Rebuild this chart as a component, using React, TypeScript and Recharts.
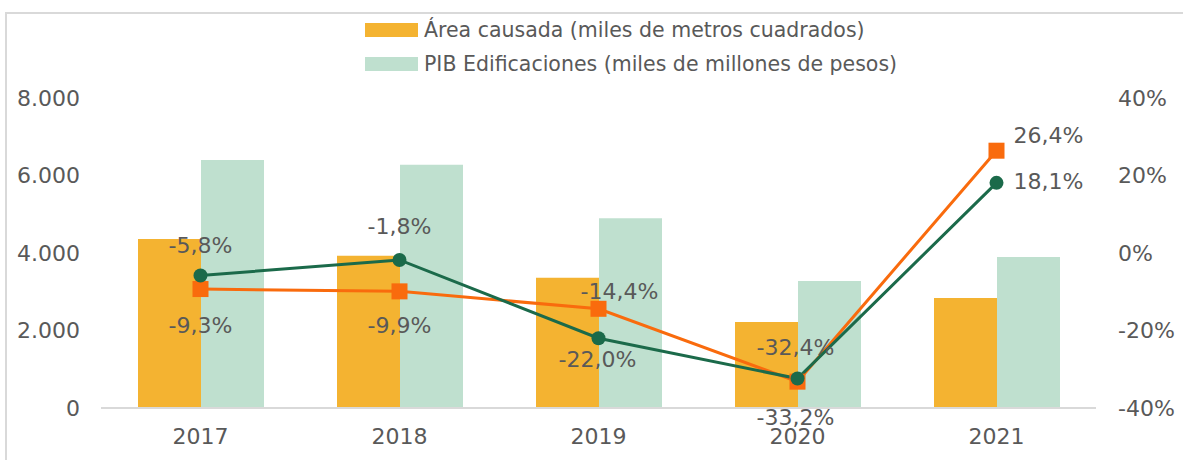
import React from 'react';
import { ComposedChart, Bar, Line, XAxis, YAxis, LabelList, Legend } from 'recharts';

const years = ['2017', '2018', '2019', '2020', '2021'];
const areaCausada = [4360, 3930, 3360, 2220, 2840];
const pibEdificaciones = [6400, 6280, 4900, 3280, 3900];
const varArea = [-9.3, -9.9, -14.4, -33.2, 26.4];
const varPib = [-5.8, -1.8, -22.0, -32.4, 18.1];
const leftTicks = [0, 2000, 4000, 6000, 8000];
const rightTicks = [-40, -20, 0, 20, 40];
const areaName = 'Área causada (miles de metros cuadrados)';
const pibName = 'PIB Edificaciones (miles de millones de pesos)';

const data = years.map((year, i) => ({
  year,
  area: areaCausada[i],
  pib: pibEdificaciones[i],
  varArea: varArea[i],
  varPib: varPib[i],
}));

const FONT = '"DejaVu Sans", sans-serif';
const TEXT = '#595959';
const C_AREA = '#F4B331';
const C_PIB = '#BFE0CF';
const C_LINE_AREA = '#F96B0D';
const C_LINE_PIB = '#1B6A4A';

// label layout offsets [dx, dy, anchor]
const areaLabelLayout: [number, number, string][] = [
  [0, 36, 'middle'], [0, 34, 'middle'], [21, -17, 'middle'], [-2, 36, 'middle'], [17, -15, 'start'],
];
const pibLabelLayout: [number, number, string][] = [
  [0, -30, 'middle'], [0, -33, 'middle'], [-1, 21, 'middle'], [-2, -31, 'middle'], [17, -1, 'start'],
];

const fmtPct = (v: number) => v.toFixed(1).replace('.', ',') + '%';
const fmtThousands = (v: number) => String(v).replace(/\B(?=(\d{3})+(?!\d))/g, '.');

const makeLabel = (layout: [number, number, string][]) => (props: any) => {
  const { x, y, value, index } = props;
  const [dx, dy, anchor] = layout[index];
  return (
    <text
      x={x + dx}
      y={y + dy}
      textAnchor={anchor as any}
      dominantBaseline="central"
      fontSize={22}
      fill={TEXT}
      fontFamily={FONT}
    >
      {fmtPct(value)}
    </text>
  );
};

const SquareDot = (props: any) => {
  const { cx, cy, index } = props;
  return <rect key={`sq-${index}`} x={cx - 8} y={cy - 8} width={16} height={16} fill={C_LINE_AREA} />;
};
const CircleDot = (props: any) => {
  const { cx, cy, index } = props;
  return <circle key={`ci-${index}`} cx={cx} cy={cy} r={7} fill={C_LINE_PIB} />;
};

const LegendContent = () => (
  <div style={{ fontFamily: FONT, fontSize: 20.5, color: TEXT, lineHeight: '34px' }}>
    {[
      { name: areaName, color: C_AREA },
      { name: pibName, color: C_PIB },
    ].map((it) => (
      <div key={it.name} style={{ display: 'flex', alignItems: 'center', height: 34, whiteSpace: 'nowrap' }}>
        <span style={{ display: 'inline-block', width: 53, height: 14, background: it.color, marginRight: 6 }} />
        <span>{it.name}</span>
      </div>
    ))}
  </div>
);

export default function App() {
  return (
    <div
      style={{
        position: 'absolute',
        left: 0,
        top: 0,
        width: 1183,
        height: 460,
        overflow: 'hidden',
        background: '#fff',
        fontFamily: FONT,
      }}
    >
      <div
        style={{
          position: 'absolute',
          left: 5,
          top: 12,
          width: 1200,
          height: 480,
          border: '2px solid #D9D9D9',
          boxSizing: 'border-box',
        }}
      />
      <div style={{ position: 'absolute', left: 0, top: 0 }}>
        <ComposedChart
          width={1183}
          height={460}
          data={data}
          margin={{ top: 98, right: 0, bottom: 0, left: 0 }}
          barCategoryGap={37}
          barGap={0}
        >
          <XAxis
            dataKey="year"
            height={52}
            tickLine={false}
            axisLine={{ stroke: '#D9D9D9', strokeWidth: 2 }}
            tick={{ fill: TEXT, fontSize: 22 }}
            tickMargin={14}
          />
          <YAxis
            yAxisId="left"
            width={101}
            domain={[0, 8000]}
            ticks={leftTicks}
            tickFormatter={fmtThousands}
            axisLine={false}
            tickLine={false}
            tickMargin={15}
            tick={{ fill: TEXT, fontSize: 22 }}
          />
          <YAxis
            yAxisId="right"
            orientation="right"
            width={87}
            domain={[-40, 40]}
            ticks={rightTicks}
            tickFormatter={(v: number) => `${v}%`}
            axisLine={false}
            tickLine={false}
            tickMargin={16}
            tick={{ fill: TEXT, fontSize: 22, textAnchor: 'start' }}
          />
          <Legend
            layout="vertical"
            verticalAlign="middle"
            align="center"
            wrapperStyle={{ top: 13, left: 365, width: 700 }}
            content={<LegendContent />}
          />
          <Bar yAxisId="left" dataKey="area" name={areaName} fill={C_AREA} isAnimationActive={false} />
          <Bar yAxisId="left" dataKey="pib" name={pibName} fill={C_PIB} isAnimationActive={false} />
          <Line
            yAxisId="right"
            dataKey="varArea"
            stroke={C_LINE_AREA}
            strokeWidth={3}
            dot={SquareDot}
            activeDot={false}
            legendType="none"
            isAnimationActive={false}
          >
            <LabelList dataKey="varArea" content={makeLabel(areaLabelLayout)} />
          </Line>
          <Line
            yAxisId="right"
            dataKey="varPib"
            stroke={C_LINE_PIB}
            strokeWidth={3}
            dot={CircleDot}
            activeDot={false}
            legendType="none"
            isAnimationActive={false}
          >
            <LabelList dataKey="varPib" content={makeLabel(pibLabelLayout)} />
          </Line>
        </ComposedChart>
      </div>
    </div>
  );
}
